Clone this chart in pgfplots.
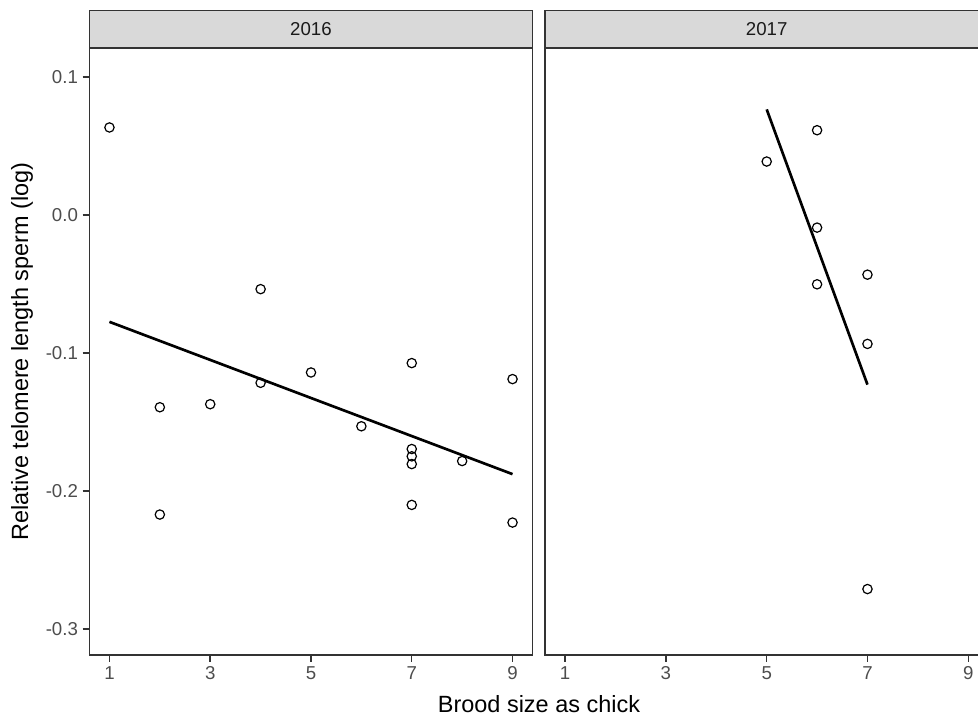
\documentclass[border=0pt]{standalone}
\usepackage{fontspec}
\setmainfont{Liberation Sans}
\usepackage{pgfplots}
\pgfplotsset{compat=1.18}
\definecolor{border}{HTML}{333333}
\definecolor{ticktxt}{HTML}{4D4D4D}
\definecolor{stripfill}{HTML}{D9D9D9}
\definecolor{striptxt}{HTML}{1A1A1A}
\pgfplotsset{
  panel/.style={
    anchor=south west, scale only axis,
    width=332.55pt, height=455.25pt,
    xmin=0.6, xmax=9.4, ymin=-0.319, ymax=0.121,
    xtick={1,3,5,7,9},
    /pgf/number format/assume math mode=true,
    tick align=outside, major tick length=5pt,
    axis line style={draw=border, line width=1.1pt},
    every tick/.style={draw=border, line width=1.1pt},
    tick label style={font=\fontsize{14}{16}\selectfont, text=ticktxt},
    xtick pos=left, ytick pos=left,
    clip=false,
  },
  pts/.style={only marks, mark=o, mark size=3.5pt, mark options={line width=0.9pt, draw=black}},
  fit/.style={black, line width=2pt, no marks},
}
\newcommand{\strip}[1]{%
  \draw[fill=stripfill, draw=border, line width=1.1pt] (rel axis cs:0,1) rectangle ([yshift=28.2pt]rel axis cs:1,1);
  \node[font=\fontsize{14}{16}\selectfont, text=striptxt] at ([yshift=14.1pt]rel axis cs:0.5,1) {#1};
}
\begin{document}
\begin{tikzpicture}
\begin{axis}[panel, at={(66.975pt,47.25pt)},
  ytick={-0.3,-0.2,-0.1,0,0.1},
  yticklabel style={/pgf/number format/fixed, /pgf/number format/fixed zerofill, /pgf/number format/precision=1},
]
\strip{2016}
\addplot[pts] table {
x y
1 0.0634
2 -0.1394
2 -0.2172
3 -0.1372
4 -0.0538
4 -0.1217
5 -0.1142
6 -0.1532
7 -0.1074
7 -0.1697
7 -0.1750
7 -0.1806
7 -0.2102
8 -0.1784
9 -0.1190
9 -0.2230
};
\addplot[fit] coordinates {(1,-0.0775) (9,-0.1879)};
\end{axis}
\begin{axis}[panel, at={(408.75pt,47.25pt)}, ytick=\empty]
\strip{2017}
\addplot[pts] table {
x y
5 0.0387
6 0.0614
6 -0.0092
6 -0.0503
7 -0.0433
7 -0.0935
7 -0.2712
};
\addplot[fit] coordinates {(5,0.0765) (7,-0.1230)};
\end{axis}
\node[rotate=90, font=\fontsize{17.6}{20}\selectfont] at (16.5pt,274.875pt) {Relative telomere length sperm (log)};
\node[anchor=base, font=\fontsize{17.6}{20}\selectfont] at (404.25pt,4.5pt) {Brood size as chick};
\pgfresetboundingbox
\path[use as bounding box] (0,0) rectangle (733.5pt,538.5pt);
\end{tikzpicture}
\end{document}
